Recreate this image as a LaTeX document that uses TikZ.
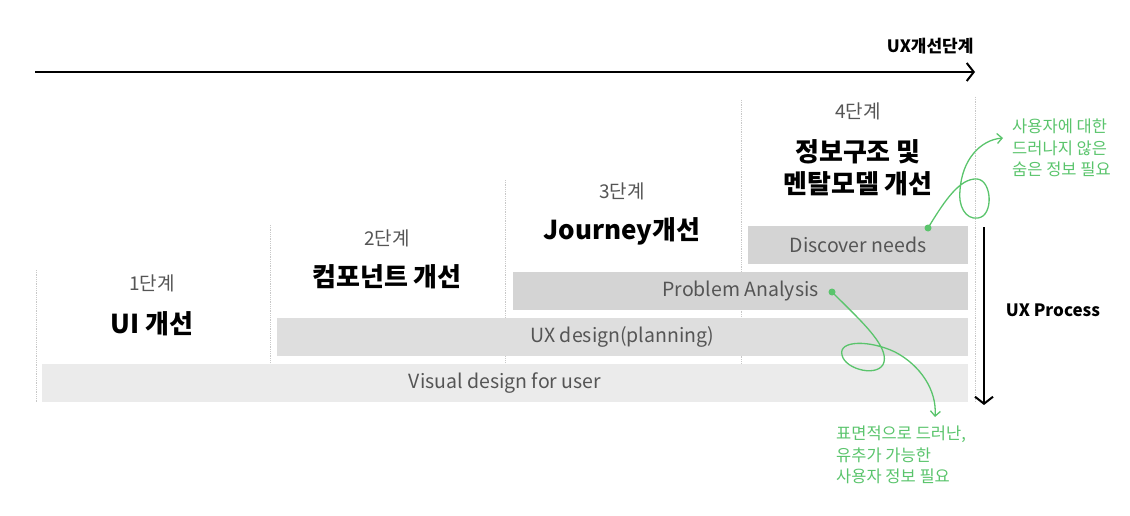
\documentclass[tikz,border=0pt]{standalone}
\usepackage{fontspec}
\setmainfont{Noto Sans CJK KR}
\newfontfamily\heavy{Noto Sans CJK KR Black}
\usetikzlibrary{arrows.meta}
\definecolor{grn}{RGB}{90,196,108}
\definecolor{barA}{RGB}{212,212,212}
\definecolor{barB}{RGB}{222,222,222}
\definecolor{barC}{RGB}{235,235,235}
\definecolor{txtg}{RGB}{85,85,85}
\definecolor{dotg}{RGB}{200,200,200}
\tikzset{
  bar/.style={inner sep=0pt, minimum height=38pt, text=txtg, font=\fontsize{19.5}{22}\selectfont},
  stage/.style={text=txtg, font=\fontsize{19}{22}\selectfont},
  title/.style={font=\heavy\fontsize{26}{32}\selectfont, align=center},
  sep/.style={dotg, densely dotted, line width=0.8pt},
  note/.style={text=grn, font=\fontsize{16.5}{21.5}\selectfont, align=left, anchor=north west, inner sep=0pt},
  gline/.style={grn, line width=1.3pt, -{Straight Barb[length=5pt,width=10pt]}},
  gdot/.style={circle, fill=grn, inner sep=0pt, minimum size=7pt},
  axis/.style={black, line width=2pt, -{Straight Barb[length=7pt,width=18pt]}},
  axlabel/.style={font=\bfseries\fontsize{17}{20}\selectfont}
}
\begin{document}
\begin{tikzpicture}[x=1pt,y=-1pt]
\useasboundingbox (0,0) rectangle (1130,516);
% separators
\draw[sep] (36,270) -- (36,402);
\draw[sep] (270,225) -- (270,402);
\draw[sep] (505,180) -- (505,402);
\draw[sep] (741,100) -- (741,402);
\draw[sep] (975,97) -- (975,402);
% bars
\node[bar, fill=barC, minimum width=926pt] (vd) at (505,383) {Visual design for user};
\node[bar, fill=barB, minimum width=691pt] (ux) at (622.5,337) {UX design(planning)};
\node[bar, fill=barA, minimum width=455pt] (pa) at (740.5,291) {Problem Analysis};
\node[bar, fill=barA, minimum width=220pt] (dn) at (858,245) {Discover needs};
% stages
\node[stage] (s1) at (152,283) {1단계};
\node[title] (t1) at (152,324) {UI 개선};
\node[stage] (s2) at (387,238) {2단계};
\node[title] (t2) at (387,277) {컴포넌트 개선};
\node[stage] (s3) at (622,191) {3단계};
\node[title] (t3) at (622,231) {Journey개선};
\node[stage] (s4) at (858,111) {4단계};
\node[title] (t4) at (858,168) {정보구조 및\\멘탈모델 개선};
% axes
\coordinate (a1) at (35,72);
\coordinate (a2) at (975,72);
\draw[axis] (a1) -- (a2);
\node[axlabel, anchor=east] (l1) at (977,46) {UX개선단계};
\coordinate (b1) at (984,227);
\coordinate (b2) at (984,405);
\draw[axis] (b1) -- (b2);
\node[axlabel] (l2) at (1053,310) {UX Process};
% green notes
\node[note] (n1) at (1012,119) {사용자에 대한\\드러나지 않은\\숨은 정보 필요};
\node[note] (n2) at (836,426) {표면적으로 드러난,\\유추가 가능한\\사용자 정보 필요};
\node[gdot] (d1) at (928,228) {};
\node[gdot] (d2) at (832,292) {};
\coordinate (e1) at (1003,138);
\coordinate (e2) at (935,417);
\draw[gline] (d1.center) .. controls (945,200) and (960,178) .. (977,179)
  .. controls (992,180) and (994,216) .. (978,218)
  .. controls (965,220) and (958,205) .. (960,190)
  .. controls (962,160) and (980,140) .. (e1);
\draw[gline] (d2.center) .. controls (860,320) and (888,345) .. (884,362)
  .. controls (880,378) and (845,370) .. (842,355)
  .. controls (838,340) and (870,340) .. (895,352)
  .. controls (920,365) and (937,390) .. (e2);
\end{tikzpicture}
\end{document}
